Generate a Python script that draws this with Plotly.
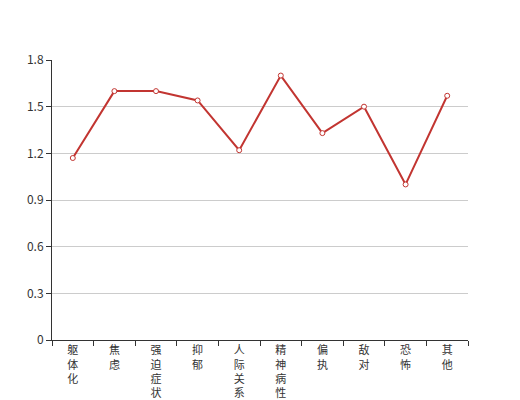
import plotly.graph_objects as go

# -----------------------------
# Data
# -----------------------------
categories = ["躯体化", "焦虑", "强迫症状", "抑郁", "人际关系敏感",
              "精神病性", "偏执", "敌对", "恐怖", "其他"]
scores = [1.17, 1.60, 1.60, 1.54, 1.22, 1.70, 1.33, 1.50, 1.00, 1.57]
y_ticks = [0, 0.3, 0.6, 0.9, 1.2, 1.5, 1.8]

# vertical labels: one character per line
vertical_labels = ["<br>".join(list(c)) for c in categories]

fig = go.Figure()

fig.add_trace(
    go.Scatter(
        x=categories,
        y=scores,
        mode="lines+markers",
        line=dict(color="#c23531", width=2),
        marker=dict(
            symbol="circle",
            size=5,
            color="white",
            line=dict(color="#c23531", width=1),
        ),
        showlegend=False,
    )
)

# margins compensate for the 8px body margin of the html page
fig.update_layout(
    width=520,
    height=400,
    margin=dict(l=44, r=60, t=52, b=68),
    plot_bgcolor="white",
    paper_bgcolor="white",
    font=dict(family="Noto Sans CJK SC, sans-serif", size=12, color="#333"),
    xaxis=dict(
        range=[-0.5, len(categories) - 0.5],
        tickmode="array",
        tickvals=categories,
        ticktext=vertical_labels,
        tickson="boundaries",
        ticks="outside",
        ticklen=5,
        tickcolor="#333",
        showline=True,
        linecolor="#333",
        linewidth=1,
        showgrid=False,
        tickangle=0,
        automargin=False,
        tickfont=dict(size=11, color="#333"),
    ),
    yaxis=dict(
        range=[0, 1.8],
        tickmode="array",
        tickvals=y_ticks,
        ticktext=[f"{v:g}" for v in y_ticks],
        ticks="outside",
        ticklen=5,
        tickcolor="#333",
        showline=True,
        linecolor="#333",
        linewidth=1,
        showgrid=True,
        gridcolor="#ccc",
        zeroline=False,
        automargin=False,
        tickfont=dict(size=12, color="#333"),
    ),
)

fig.write_html("out.html")
